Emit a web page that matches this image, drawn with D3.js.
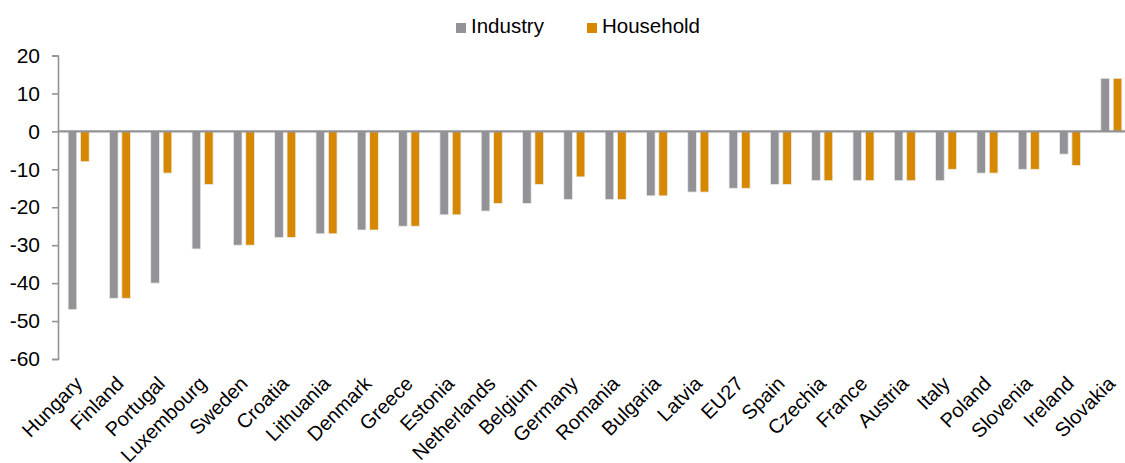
<!DOCTYPE html>
<html>
<head>
<meta charset="utf-8">
<script src="https://cdn.jsdelivr.net/npm/d3@7/dist/d3.min.js"></script>
<style>
  html, body { margin: 0; padding: 0; background: #fff; }
  svg { display: block; font-family: "Liberation Sans", Arial, sans-serif; }
</style>
</head>
<body>
<svg id="chart" width="1125" height="463"></svg>
<script>
// Change by country, industry vs household
const countries = ["Hungary","Finland","Portugal","Luxembourg","Sweden","Croatia","Lithuania","Denmark","Greece","Estonia","Netherlands","Belgium","Germany","Romania","Bulgaria","Latvia","EU27","Spain","Czechia","France","Austria","Italy","Poland","Slovenia","Ireland","Slovakia"];
const industry  = [-47,-44,-40,-31,-30,-28,-27,-26,-25,-22,-21,-19,-18,-18,-17,-16,-15,-14,-13,-13,-13,-13,-11,-10,-6,14];
const household = [-8,-44,-11,-14,-30,-28,-27,-26,-25,-22,-19,-14,-12,-18,-17,-16,-15,-14,-13,-13,-13,-10,-11,-10,-9,14];
const seriesNames = ["Industry","Household"];
const yTicks = [20,10,0,-10,-20,-30,-40,-50,-60];

const colors = {Industry: "#939397", Household: "#D68800"};
const axisColor = "#939397";

const svg = d3.select("#chart");
const plotLeft = 58, plotRight = 1132, plotTop = 55.5, plotBottom = 359;

const x0 = d3.scaleBand().domain(countries).range([plotLeft, plotRight]).paddingInner(0.49).paddingOuter(0.245);
const x1 = d3.scaleBand().domain(seriesNames).range([0, x0.bandwidth()]).paddingInner(0.3);
const y = d3.scaleLinear().domain([-60, 20]).range([plotBottom, plotTop]);

const rows = countries.map((c, i) => ({country: c, Industry: industry[i], Household: household[i]}));

// Bars
const groups = svg.append("g").selectAll("g").data(rows).join("g")
  .attr("transform", d => `translate(${x0(d.country)},0)`);
groups.selectAll("rect")
  .data(d => seriesNames.map(k => ({key: k, value: d[k]})))
  .join("rect")
  .attr("x", d => x1(d.key))
  .attr("width", x1.bandwidth())
  .attr("y", d => y(Math.max(0, d.value)))
  .attr("height", d => Math.abs(y(d.value) - y(0)))
  .attr("fill", d => colors[d.key])
  .attr("stroke", "#ececec")
  .attr("stroke-width", 0.8);

// Zero line
svg.append("line")
  .attr("x1", plotLeft).attr("x2", 1125)
  .attr("y1", y(0)).attr("y2", y(0))
  .attr("stroke", axisColor).attr("stroke-width", 2.2);

// Y axis (plain hyphen for negatives)
const yAxis = svg.append("g").attr("transform", `translate(${plotLeft},0)`)
  .call(d3.axisLeft(y).tickValues(yTicks).tickSize(6).tickPadding(12).tickFormat(d => String(d)));
yAxis.select(".domain").attr("stroke", axisColor).attr("stroke-width", 1.6);
yAxis.selectAll(".tick line").attr("stroke", axisColor).attr("stroke-width", 1.6);
yAxis.selectAll(".tick text").attr("font-size", 21).attr("fill", "#000")
  .attr("font-family", "Liberation Sans, Arial, sans-serif");

// Category labels, rotated
svg.append("g").selectAll("text").data(countries).join("text")
  .attr("transform", d => `translate(${x0(d) + x0.bandwidth() / 2 + 5},${385}) rotate(-45)`)
  .attr("text-anchor", "end")
  .attr("font-size", 20)
  .attr("fill", "#000")
  .text(d => d);

// Legend
const legend = [{name: "Industry", x: 456}, {name: "Household", x: 587}];
const lg = svg.append("g").selectAll("g").data(legend).join("g")
  .attr("transform", d => `translate(${d.x},23)`);
lg.append("rect").attr("width", 10).attr("height", 10).attr("fill", d => colors[d.name]);
lg.append("text").attr("x", 15).attr("y", 10).attr("font-size", 20.5).attr("fill", "#000").text(d => d.name);
</script>
</body>
</html>
